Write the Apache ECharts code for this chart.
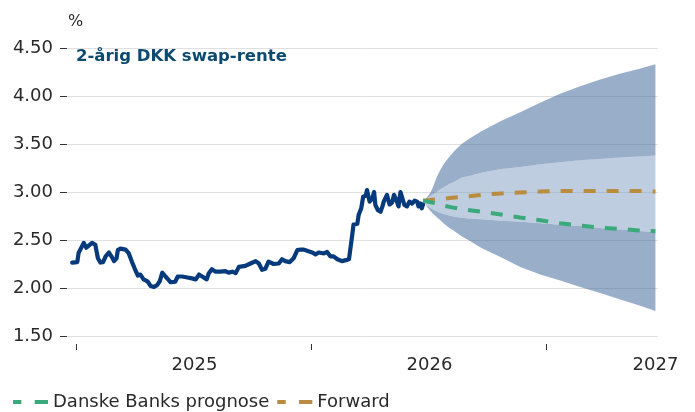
<!DOCTYPE html>
<html>
<head>
<meta charset="utf-8">
<script src="https://cdn.jsdelivr.net/npm/echarts@6/dist/echarts.min.js"></script>
<style>
  html, body { margin: 0; padding: 0; background: #fff; }
  #chart { width: 695px; height: 412px; }
</style>
</head>
<body>
<div id="chart"></div>
<script>
// 2-year DKK swap rate: history, forecast and uncertainty fan
const histDates = [
  '2024-06-25','2024-07-03','2024-07-05','2024-07-13','2024-07-17','2024-07-20','2024-07-26','2024-07-31',
  '2024-08-04','2024-08-08','2024-08-12','2024-08-16','2024-08-21','2024-08-25','2024-08-29','2024-09-02',
  '2024-09-04','2024-09-08','2024-09-16','2024-09-21','2024-09-26','2024-09-30','2024-10-05','2024-10-09',
  '2024-10-14','2024-10-20','2024-10-25','2024-10-30','2024-11-04','2024-11-08','2024-11-12','2024-11-17',
  '2024-11-21','2024-11-25','2024-12-02','2024-12-06','2024-12-13','2024-12-21','2024-12-28','2025-01-03',
  '2025-01-08','2025-01-13','2025-01-20','2025-01-23','2025-01-28','2025-02-03','2025-02-10','2025-02-18',
  '2025-02-23','2025-03-01','2025-03-06','2025-03-11','2025-03-21','2025-03-29','2025-04-06','2025-04-11',
  '2025-04-16','2025-04-21','2025-04-26','2025-05-04','2025-05-12','2025-05-17','2025-05-22','2025-05-29',
  '2025-06-04','2025-06-10','2025-06-15','2025-06-20','2025-06-26','2025-07-03','2025-07-08','2025-07-13',
  '2025-07-21','2025-07-26','2025-07-31','2025-08-05','2025-08-11','2025-08-18','2025-08-24','2025-08-29',
  '2025-08-31','2025-09-03','2025-09-05','2025-09-11','2025-09-13','2025-09-17','2025-09-20','2025-09-24',
  '2025-09-26','2025-09-30','2025-10-04','2025-10-07','2025-10-09','2025-10-13','2025-10-17','2025-10-20',
  '2025-10-22','2025-10-27','2025-10-31','2025-11-04','2025-11-07','2025-11-11','2025-11-14','2025-11-17',
  '2025-11-20','2025-11-23','2025-11-27','2025-12-01','2025-12-05','2025-12-09','2025-12-13','2025-12-15',
  '2025-12-18','2025-12-20','2025-12-22'
];
const histValues = [
  2.265, 2.27, 2.365, 2.47, 2.42, 2.41, 2.47, 2.45,
  2.31, 2.265, 2.27, 2.33, 2.37, 2.33, 2.28, 2.31,
  2.395, 2.41, 2.40, 2.36, 2.27, 2.205, 2.13, 2.14,
  2.09, 2.07, 2.02, 2.01, 2.03, 2.07, 2.16, 2.12,
  2.09, 2.06, 2.065, 2.12, 2.12, 2.11, 2.10, 2.09,
  2.14, 2.12, 2.09, 2.15, 2.195, 2.17, 2.17, 2.175,
  2.16, 2.17, 2.155, 2.22, 2.23, 2.255, 2.28, 2.255,
  2.19, 2.20, 2.275, 2.25, 2.255, 2.30, 2.28, 2.27,
  2.31, 2.396, 2.40, 2.40, 2.385, 2.37, 2.35, 2.37,
  2.36, 2.375, 2.33, 2.33, 2.30, 2.28, 2.29, 2.30,
  2.40, 2.55, 2.66, 2.67, 2.76, 2.83, 2.95, 2.96,
  3.02, 2.90, 2.93, 3.00, 2.865, 2.81, 2.795, 2.85,
  2.90, 2.97, 2.87, 2.89, 2.97, 2.91, 2.85, 3.00,
  2.99, 2.865, 2.85, 2.90, 2.88, 2.91, 2.90, 2.85,
  2.88, 2.83, 2.87
];

// Point forecasts (monthly)
const fcDates = [
  '2025-12-22','2025-12-29','2026-01-05','2026-01-12','2026-01-22','2026-02-05','2026-02-22','2026-03-22',
  '2026-04-22','2026-05-22','2026-06-22','2026-07-22','2026-08-22','2026-09-22','2026-10-22','2026-11-22',
  '2026-12-18'
];
const bankForecast = [2.91, 2.90, 2.89, 2.88, 2.86, 2.84, 2.82, 2.795, 2.765, 2.735, 2.705, 2.675, 2.65, 2.63, 2.615, 2.60, 2.59];
const forwardCurve = [2.91, 2.915, 2.92, 2.923, 2.927, 2.94, 2.95, 2.97, 2.985, 2.995, 3.005, 3.01, 3.01, 3.01, 3.01, 3.01, 3.005];

// Uncertainty bands (denser near the start, where the fan opens quickly)
const fanDates = [
  '2025-12-22','2025-12-26','2025-12-30','2026-01-03','2026-01-07','2026-01-12','2026-01-17','2026-01-23',
  '2026-01-31','2026-02-09','2026-02-20','2026-03-05','2026-03-22','2026-04-22','2026-05-22','2026-06-22',
  '2026-07-22','2026-08-22','2026-09-22','2026-10-22','2026-11-22','2026-12-18'
];
const outerLow  = [2.90, 2.87, 2.83, 2.80, 2.77, 2.74, 2.71, 2.675, 2.63, 2.59, 2.54, 2.49, 2.42, 2.32, 2.22, 2.14, 2.08, 2.013, 1.95, 1.885, 1.82, 1.76];
const innerLow  = [2.90, 2.875, 2.85, 2.83, 2.815, 2.80, 2.785, 2.77, 2.755, 2.743, 2.732, 2.722, 2.715, 2.70, 2.69, 2.675, 2.66, 2.645, 2.625, 2.61, 2.595, 2.58];
const innerHigh = [2.90, 2.92, 2.94, 2.96, 2.98, 3.00, 3.025, 3.05, 3.08, 3.11, 3.15, 3.17, 3.20, 3.24, 3.26, 3.29, 3.31, 3.33, 3.345, 3.36, 3.37, 3.38];
const outerHigh = [2.90, 2.93, 2.96, 3.00, 3.06, 3.15, 3.22, 3.29, 3.36, 3.43, 3.50, 3.56, 3.63, 3.74, 3.83, 3.93, 4.02, 4.10, 4.17, 4.23, 4.28, 4.33];

const xTickDates = ['2024-07-01', '2025-07-01', '2026-07-01'];
const xLabelDates = ['2025-01-01', '2026-01-01', '2026-12-18'];
const xLabelTexts = ['2025', '2026', '2027'];

const seriesNames = ['Danske Banks prognose', 'Forward'];
const titleText = '2-årig DKK swap-rente';

const FONT = 'DejaVu Sans';
const TEXT = '#2a2a2a';
const NAVY = '#063a7c';
const GREEN = '#3aa97b';
const GOLD = '#b98c40';
const FAN_DARK = 'rgba(49,93,147,0.5)';
const FAN_LIGHT = 'rgba(127,155,193,0.5)';

const ts = d => new Date(d + 'T00:00:00Z').getTime();
const pairs = (dates, vals) => dates.map((d, i) => [ts(d), vals[i]]);
const fanTs = fanDates.map(ts);

const labelTs = xLabelDates.map(ts);
const dashIcon = 'path://M0,0H8.4V4H0Z M21.7,0H35V4H21.7Z';

// Fan bands: each band is a closed polygon between a lower and an upper curve
const fanBands = [
  { low: outerLow, high: innerLow, color: FAN_DARK },
  { low: innerLow, high: innerHigh, color: FAN_LIGHT },
  { low: innerHigh, high: outerHigh, color: FAN_DARK }
];

function renderFan(params, api) {
  if (params.dataIndex !== 0) return null;
  const children = fanBands.map(b => {
    const upper = fanTs.map((t, i) => api.coord([t, b.high[i]]));
    const lower = fanTs.map((t, i) => api.coord([t, b.low[i]])).reverse();
    return {
      type: 'polygon',
      shape: { points: upper.concat(lower) },
      style: { fill: b.color, stroke: null }
    };
  });
  return { type: 'group', children };
}

const chart = echarts.init(document.getElementById('chart'), null, { renderer: 'canvas' });
chart.setOption({
  animation: false,
  backgroundColor: '#fff',
  title: {
    text: titleText, left: 76, top: 47, padding: 0,
    textStyle: { fontFamily: FONT, fontSize: 16.5, fontWeight: 'bold', color: '#0d4a70', lineHeight: 20 }
  },
  legend: {
    left: 13, top: 392, padding: 0, itemGap: 8, itemWidth: 35, itemHeight: 4,
    textStyle: { fontFamily: FONT, fontSize: 18, color: TEXT, lineHeight: 20 },
    data: [
      { name: seriesNames[0], icon: dashIcon, itemStyle: { color: GREEN, borderWidth: 0 } },
      { name: seriesNames[1], icon: dashIcon, itemStyle: { color: GOLD, borderWidth: 0 } }
    ]
  },
  grid: { left: 67, right: 37, top: 48, bottom: 76, containLabel: false },
  xAxis: {
    type: 'value', min: ts('2024-06-17'), max: ts('2026-12-22'), offset: 8,
    axisLine: { show: false },
    axisTick: { show: true, length: 6, customValues: xTickDates.map(ts), lineStyle: { color: '#333', width: 1 } },
    splitLine: { show: false },
    axisLabel: {
      customValues: labelTs, margin: 12, showMinLabel: true, showMaxLabel: true,
      fontFamily: FONT, fontSize: 18, color: TEXT,
      formatter: v => { const i = labelTs.indexOf(v); return i >= 0 ? xLabelTexts[i] : ''; }
    }
  },
  yAxis: {
    type: 'value', min: 1.5, max: 4.5, interval: 0.5,
    name: '%', nameLocation: 'end', nameGap: 18,
    nameTextStyle: { fontFamily: FONT, fontSize: 16, color: TEXT, align: 'left', padding: [0, 0, 0, 1] },
    axisLine: { show: false },
    axisTick: { show: true, length: 7, lineStyle: { color: '#333', width: 1 } },
    axisLabel: { margin: 14, fontFamily: FONT, fontSize: 18, color: TEXT, formatter: v => v.toFixed(2) },
    splitLine: { show: true, lineStyle: { color: '#e0e0e0', width: 1 } }
  },
  series: [
    {
      name: 'Usikkerhed', type: 'custom', renderItem: renderFan, silent: true, z: 1,
      data: fanTs.map((t, i) => [t, outerLow[i], outerHigh[i]]),
      encode: { x: 0, y: [1, 2] }
    },
    {
      name: 'Historik', type: 'line', data: pairs(histDates, histValues),
      symbol: 'none', z: 3,
      lineStyle: { color: NAVY, width: 4.2, join: 'round', cap: 'round' }
    },
    {
      name: seriesNames[1], type: 'line', data: pairs(fcDates, forwardCurve),
      symbol: 'none', z: 4, color: GOLD,
      lineStyle: { color: GOLD, width: 4, type: [12, 11] }
    },
    {
      name: seriesNames[0], type: 'line', data: pairs(fcDates, bankForecast),
      symbol: 'none', z: 4, color: GREEN,
      lineStyle: { color: GREEN, width: 4, type: [12, 11] }
    }
  ]
});
</script>
</body>
</html>
